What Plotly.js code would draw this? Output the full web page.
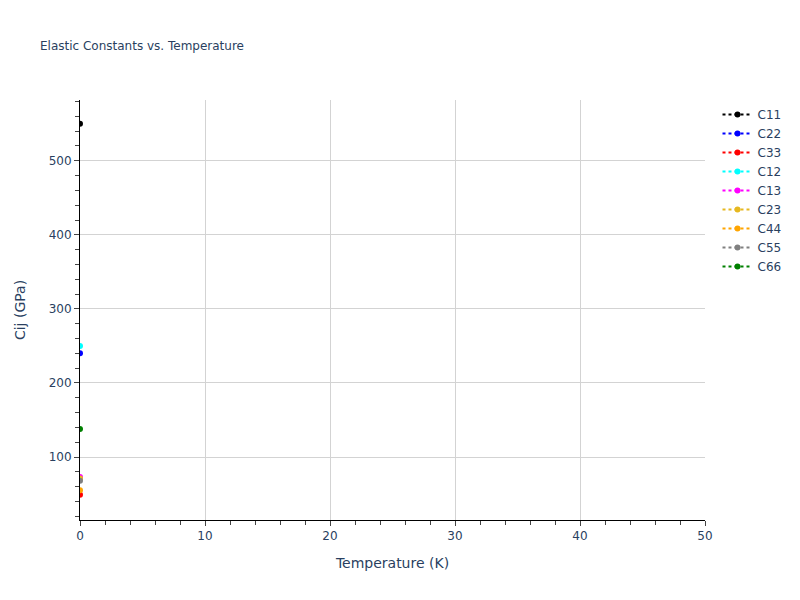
<!DOCTYPE html>
<html>
<head>
<meta charset="utf-8">
<script src="https://cdn.plot.ly/plotly-3.0.1.min.js"></script>
<style>
  body { margin: 0; }
  #chart { width: 800px; height: 600px; }
</style>
</head>
<body>
<div id="chart"></div>
<script>
// one temperature point, one value per elastic constant
const temperature = [0];
const names = ["C11", "C22", "C33", "C12", "C13", "C23", "C44", "C55", "C66"];
const colors = ["black", "blue", "red", "cyan", "magenta", "#e6b820", "orange", "gray", "green"];
const C11 = [550];
const C22 = [240];
const C33 = [49];
const C12 = [250];
const C13 = [73];
const C23 = [71];
const C44 = [55];
const C55 = [68];
const C66 = [138];
const values = [C11, C22, C33, C12, C13, C23, C44, C55, C66];

const traces = names.map((name, i) => ({
  x: temperature,
  y: values[i],
  name,
  type: "scatter",
  mode: "lines+markers",
  line: {color: colors[i], dash: "dot", width: 2},
  marker: {color: colors[i], size: 6}
}));

const axisStyle = {
  showline: true,
  linecolor: "black",
  linewidth: 1,
  ticks: "outside",
  showgrid: true,
  gridcolor: "lightgray",
  zeroline: false
};

const layout = {
  font: {family: "DejaVu Sans, Verdana, sans-serif", color: "#2a3f5f"},
  title: {text: "Elastic Constants vs. Temperature", font: {size: 12}, x: 0.05, y: 0.93},
  plot_bgcolor: "white",
  paper_bgcolor: "white",
  margin: {l: 80, r: 95, t: 100, b: 80},
  xaxis: Object.assign({}, axisStyle, {
    title: {text: "Temperature (K)", standoff: 15},
    range: [0, 50],
    dtick: 10,
    minor: {ticks: "outside", ticklen: 4, tickcolor: "#444", dtick: 2}
  }),
  yaxis: Object.assign({}, axisStyle, {
    title: {text: "Cij (GPa)", standoff: 19},
    range: [15, 582],
    dtick: 100,
    minor: {ticks: "outside", ticklen: 4, tickcolor: "#444", dtick: 20}
  }),
  legend: {x: 1.02, y: 1}
};

Plotly.newPlot("chart", traces, layout, {displayModeBar: false});
</script>
</body>
</html>
